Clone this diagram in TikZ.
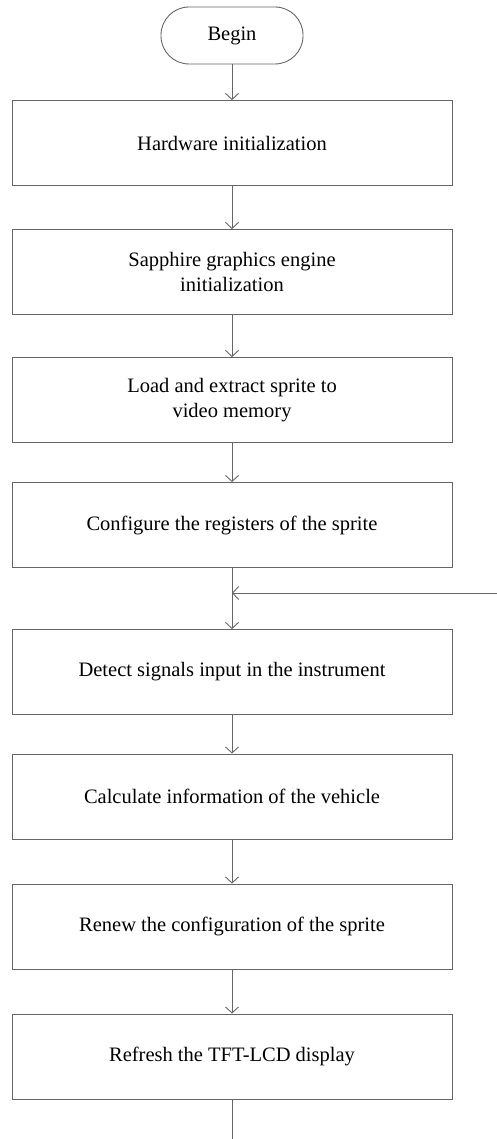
\documentclass[tikz,border=0pt]{standalone}
\usepackage{fontspec}
\setmainfont{Liberation Serif}
\usetikzlibrary{arrows.meta}

\tikzset{
  flowline/.style={draw=black!60, line width=0.9pt},
  flowarrow/.style={flowline, -{Straight Barb[length=6pt,width=13pt]}},
  stepbox/.style={draw=black!60, line width=0.9pt, minimum width=440pt, minimum height=85pt,
    inner sep=0pt, align=center, font=\fontsize{20.5}{25}\selectfont},
  termbox/.style={draw=black!60, line width=0.9pt, rounded corners=28pt, minimum width=142pt,
    minimum height=57pt, inner sep=0pt, font=\fontsize{20.5}{25}\selectfont}
}

\begin{document}
\begin{tikzpicture}[x=1pt, y=-1pt]
  \useasboundingbox (0,0) rectangle (497,1139);

  \node[termbox] (begin) at (232,35.5) {Begin};
  \node[stepbox] (hw) at (232,143) {Hardware initialization};
  \node[stepbox] (engine) at (232,272) {Sapphire graphics engine\\initialization};
  \node[stepbox] (load) at (232,400) {Load and extract sprite to\\video memory};
  \node[stepbox] (config) at (232,525) {Configure the registers of the sprite};
  \node[stepbox] (detect) at (232,672) {Detect signals input in the instrument};
  \node[stepbox] (calc) at (232,796.5) {Calculate information of the vehicle};
  \node[stepbox] (renew) at (232,926.5) {Renew the configuration of the sprite};
  \node[stepbox] (refresh) at (232,1056.5) {Refresh the TFT-LCD display};

  \coordinate (loopin) at (497,593);
  \coordinate (join) at (232,593);
  \coordinate (tail) at (232,1139);

  \draw[flowarrow] (begin) -- (hw);
  \draw[flowarrow] (hw) -- (engine);
  \draw[flowarrow] (engine) -- (load);
  \draw[flowarrow] (load) -- (config);
  \draw[flowarrow] (config) -- (detect);
  \draw[flowarrow] (detect) -- (calc);
  \draw[flowarrow] (calc) -- (renew);
  \draw[flowarrow] (renew) -- (refresh);
  \draw[flowline] (refresh) -- (tail);

  % loop back from the right edge
  \draw[flowarrow] (loopin) -- (join);
\end{tikzpicture}
\end{document}
